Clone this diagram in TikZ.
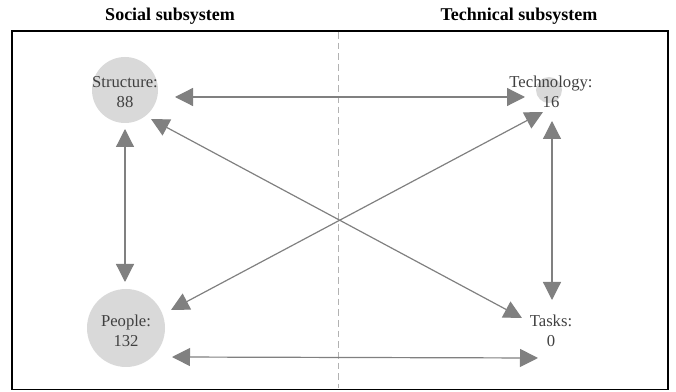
\documentclass[tikz,border=0pt]{standalone}
\usepackage{fontspec}
\setmainfont{Liberation Serif}
\usetikzlibrary{arrows.meta}
\definecolor{arrowgray}{HTML}{808080}
\definecolor{circfill}{HTML}{D9D9D9}
\definecolor{txtgray}{HTML}{404040}
\tikzset{
  bubble/.style={circle, fill=circfill, draw=none, inner sep=0pt},
  lbl/.style={align=center, text=txtgray, font=\fontsize{12.5}{15}\selectfont, inner sep=0pt},
  title/.style={font=\fontsize{13.5}{16}\selectfont\bfseries, inner sep=0pt, anchor=base},
  link/.style={draw=arrowgray, line width=0.9pt, {Triangle[length=13.5pt,width=13.5pt,fill=arrowgray]}-{Triangle[length=13.5pt,width=13.5pt,fill=arrowgray]}}
}
\begin{document}
\begin{tikzpicture}[x=0.75pt,y=-0.75pt]
\useasboundingbox (0,0) rectangle (676,392);
% frame and divider
\draw[line width=1.1pt] (12,31) rectangle (668,389.5);
\draw[color=black!30, line width=0.7pt, dash pattern=on 5pt off 3pt] (338,32) -- (338,388.5);
% titles
\node[title] (tsoc) at (170,21) {Social subsystem};
\node[title] (ttec) at (519,21) {Technical subsystem};
% bubbles
\node[bubble, minimum size=49.5pt] (S) at (125,90) {};
\node[bubble, minimum size=19.5pt] (T) at (549,90) {};
\node[bubble, minimum size=58.5pt] (P) at (126,328) {};
% labels
\node[lbl] (Sl) at (125,92) {Structure:\\88};
\node[lbl] (Tl) at (551,92) {Technology:\\16};
\node[lbl] (Pl) at (126,331) {People:\\132};
\node[lbl] (Kl) at (551,331) {Tasks:\\0};
% arrow end points
\coordinate (st1) at (175,97);  \coordinate (st2) at (525,97);
\coordinate (sp1) at (125,129); \coordinate (sp2) at (125,282);
\coordinate (tk1) at (552,121); \coordinate (tk2) at (552,300);
\coordinate (pk1) at (172,357); \coordinate (pk2) at (538,358);
\coordinate (sk1) at (151,119); \coordinate (sk2) at (522,318);
\coordinate (pt1) at (171,310); \coordinate (pt2) at (543,112);
% connectors
\draw[link] (st1) -- (st2);
\draw[link] (sp1) -- (sp2);
\draw[link] (tk1) -- (tk2);
\draw[link] (pk1) -- (pk2);
\draw[link] (sk1) -- (sk2);
\draw[link] (pt1) -- (pt2);
\end{tikzpicture}
\end{document}
